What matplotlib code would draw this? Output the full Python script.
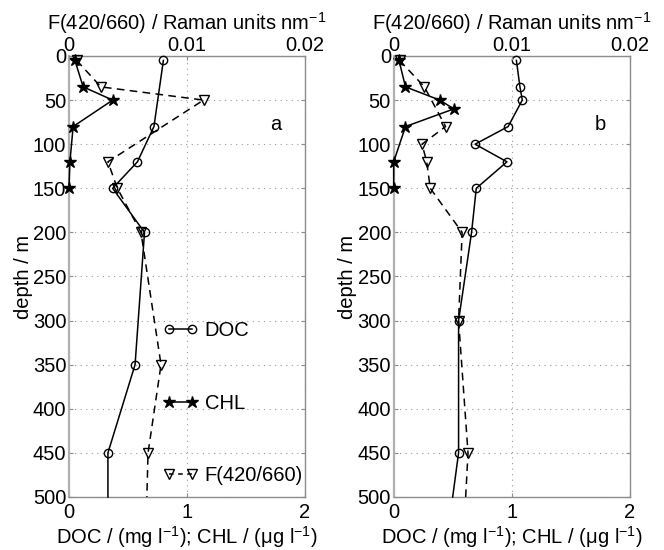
import matplotlib
matplotlib.use("Agg")
import matplotlib.pyplot as plt
from matplotlib.lines import Line2D

plt.rcParams["font.family"] = ["Liberation Sans", "DejaVu Sans"]
plt.rcParams["mathtext.fontset"] = "custom"
plt.rcParams["mathtext.rm"] = "Liberation Sans"
plt.rcParams["mathtext.it"] = "Liberation Sans"
plt.rcParams["mathtext.default"] = "regular"

# panel a
depth_doc_a = [5, 80, 120, 150, 200, 350, 450, 500]
doc_a = [0.80, 0.72, 0.58, 0.37, 0.64, 0.56, 0.33, 0.33]
depth_chl_a = [5, 35, 50, 80, 120, 150]
chl_a = [0.05, 0.12, 0.37, 0.035, 0.008, 0.0]
depth_f_a = [5, 35, 50, 120, 150, 200, 350, 450, 500]
f_a = [0.00065, 0.0027, 0.0114, 0.0033, 0.0041, 0.0061, 0.0078, 0.0067, 0.0066]

# panel b
depth_doc_b = [5, 35, 50, 80, 100, 120, 150, 200, 300, 450, 500]
doc_b = [1.04, 1.07, 1.09, 0.97, 0.69, 0.96, 0.70, 0.66, 0.55, 0.55, 0.50]
depth_chl_b = [5, 35, 50, 60, 80, 120, 150]
chl_b = [0.045, 0.10, 0.39, 0.51, 0.10, 0.0, 0.0]
depth_f_b = [5, 35, 80, 100, 120, 150, 200, 300, 450, 500]
f_b = [0.0005, 0.0026, 0.0044, 0.0024, 0.0028, 0.0031, 0.0058, 0.0055, 0.0063, 0.0061]

depth_ticks = list(range(0, 501, 50))
bottom_ticks = [0, 1, 2]
top_ticks = [0, 0.01, 0.02]
top_labels = ["0", "0.01", "0.02"]

FS = 14.5
LFS = 14.5
SPINE = "#8c8c8c"
DASH = (0, (5, 3.5))

fig = plt.figure(figsize=(6.64, 5.5), dpi=100)


def panel(left, d_doc, doc, d_chl, chl, d_f, f, letter, legend=False):
    ax = fig.add_axes([left, 0.0964, 0.3554, 0.8018])
    ax.set_xlim(0, 2)
    ax.set_ylim(500, 0)
    ax.set_xticks(bottom_ticks)
    ax.set_yticks(depth_ticks)
    ax.grid(True, linestyle=(0, (1, 4)), color="#999999", linewidth=0.8)
    ax.tick_params(direction="in", length=3, color=SPINE, labelsize=FS,
                   right=True)
    ax.tick_params(axis="x", pad=4)
    ax.tick_params(axis="y", pad=2)
    for s in ax.spines.values():
        s.set_color(SPINE)
        s.set_linewidth(1.0)
    ax.spines["left"].set_linewidth(1.6)
    ax.spines["left"].set_color("#b0b0b0")
    ax.set_xlabel("DOC / (mg l$^{-1}$); CHL / ($\\mu$g l$^{-1}$)", fontsize=LFS,
                  labelpad=2)
    ax.set_ylabel("depth / m", fontsize=LFS, labelpad=0)

    ax.plot(doc, d_doc, "-", color="k", lw=1.1, marker="o", ms=6,
            mfc="none", mec="k", mew=1.0, markevery=slice(0, len(doc) - 1),
            clip_on=False, zorder=3)
    ax.plot(chl, d_chl, "-", color="k", lw=1.1, marker="*", ms=9,
            mfc="k", mec="k", clip_on=False, zorder=3)

    top = ax.twiny()
    top.set_xlim(0, 0.02)
    top.set_xticks(top_ticks)
    top.set_xticklabels(top_labels)
    top.tick_params(direction="in", length=3, color=SPINE, labelsize=FS, pad=1)
    for s in top.spines.values():
        s.set_visible(False)
    top.set_xlabel("F(420/660) / Raman units nm$^{-1}$", fontsize=LFS, labelpad=4)
    top.plot(f, d_f, linestyle=DASH, color="k", lw=1.1, marker="v", ms=6.5,
             mfc="none", mec="k", mew=1.0, markevery=slice(0, len(f) - 1),
             clip_on=False)
    top.set_ylim(500, 0)

    ax.text(1.75, 78, letter, fontsize=FS, ha="center", va="center")

    if legend:
        handles = [
            Line2D([], [], color="k", lw=1.1, marker="o", ms=6, mfc="none",
                   mew=1.0),
            Line2D([], [], color="k", lw=1.1, marker="*", ms=9, mfc="k"),
            Line2D([], [], color="k", lw=1.1, linestyle=(0, (3, 3)), marker="v",
                   ms=6.5, mfc="none", mew=1.0),
        ]
        ax.legend(handles, ["DOC", "CHL", "F(420/660)"], loc="upper left",
                  bbox_to_anchor=(0.397, 0.398), frameon=False, fontsize=FS,
                  numpoints=2, handlelength=1.78, handletextpad=0.3,
                  labelspacing=2.65, borderpad=0, borderaxespad=0)
    return ax


panel(0.1039, depth_doc_a, doc_a, depth_chl_a, chl_a, depth_f_a, f_a, "a",
      legend=True)
panel(0.5929, depth_doc_b, doc_b, depth_chl_b, chl_b, depth_f_b, f_b, "b")

fig.savefig("out.png", dpi=100)
